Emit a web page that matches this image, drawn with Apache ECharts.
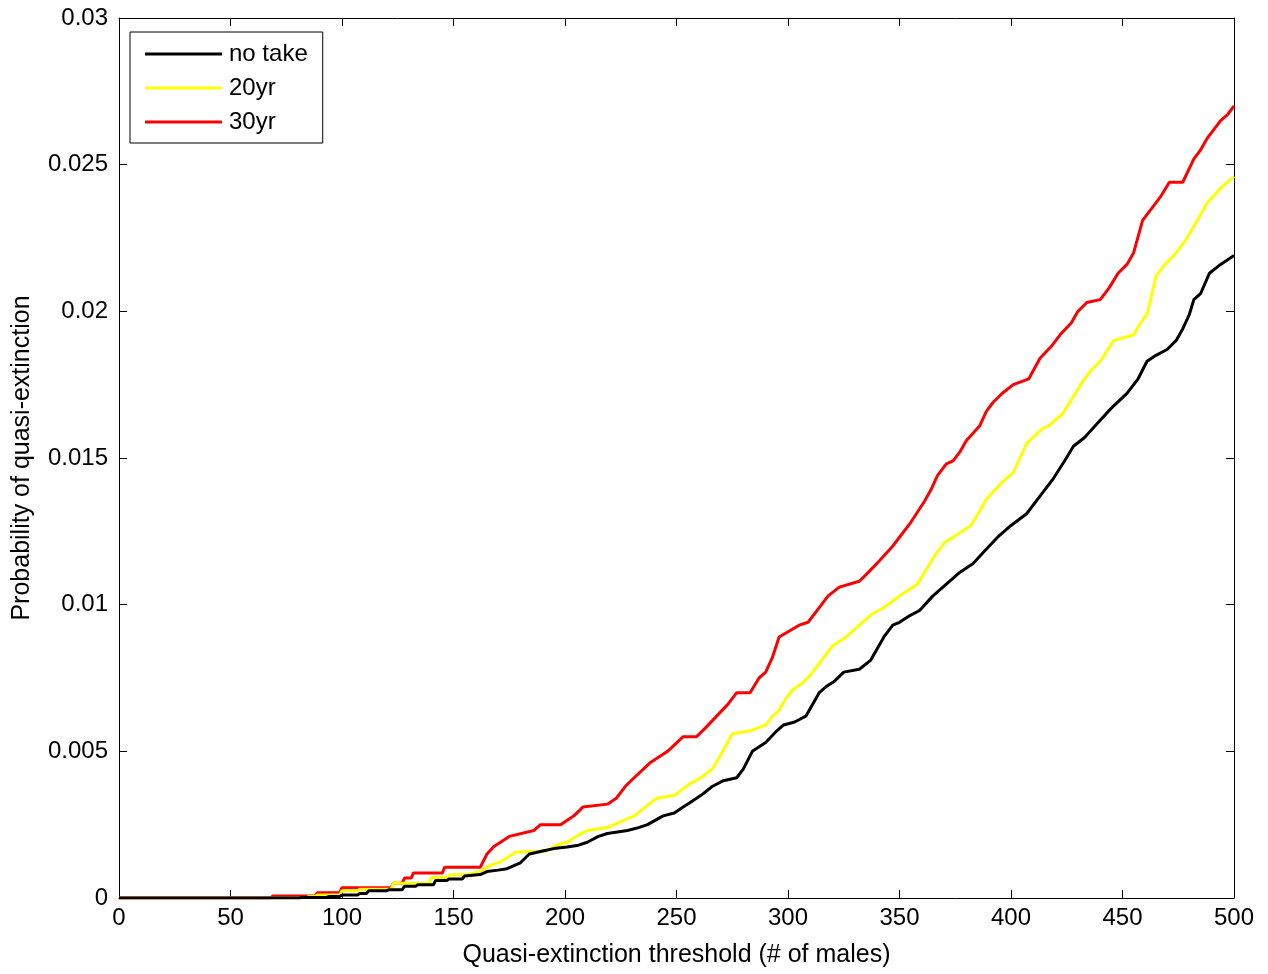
<!DOCTYPE html>
<html>
<head>
<meta charset="utf-8">
<title>Probability of quasi-extinction</title>
<script src="https://cdn.jsdelivr.net/npm/echarts@6/dist/echarts.min.js"></script>
<style>
  html, body { margin: 0; padding: 0; background: #fff; }
  #main { width: 1268px; height: 974px; }
</style>
</head>
<body>
<div id="main"></div>
<script>
var seriesNames = ['no take', '20yr', '30yr'];
var seriesColors = ['#000000', '#ffff00', '#ff0000'];

// [threshold, probability]
var noTake = [
  [0, 0], [81, 0], [82, 0.00002], [93, 0.00002], [94, 0.00005], [99, 0.00005],
  [100, 0.0001], [107, 0.0001], [108, 0.00015], [111, 0.00015], [112, 0.00025],
  [120, 0.00025], [121, 0.00028], [127, 0.00028], [128, 0.0004], [133, 0.0004],
  [134, 0.00045], [141, 0.00045], [142, 0.0006], [147, 0.0006], [148, 0.00065],
  [154, 0.00065], [155, 0.00075], [162, 0.0008], [165, 0.0009], [170, 0.00095],
  [174, 0.001], [180, 0.0012], [184, 0.0015], [190, 0.0016], [196, 0.0017],
  [201, 0.00174], [206, 0.0018], [210, 0.0019], [215, 0.0021], [219, 0.0022],
  [228, 0.0023], [233, 0.0024], [237, 0.0025], [244, 0.0028], [249, 0.0029],
  [253, 0.0031], [257, 0.0033], [261, 0.0035], [266, 0.0038], [271, 0.004],
  [277, 0.0041], [280, 0.0044], [284, 0.005], [290, 0.0053], [295, 0.0057],
  [298, 0.0059], [303, 0.006], [308, 0.0062], [311, 0.0066], [314, 0.007],
  [317, 0.0072], [321, 0.0074], [325, 0.0077], [332, 0.0078], [337, 0.0081],
  [340, 0.0085], [343, 0.0089], [347, 0.0093], [350, 0.0094], [354, 0.0096],
  [359, 0.0098], [365, 0.0103], [371, 0.0107], [377, 0.0111], [383, 0.0114],
  [389, 0.0119], [394, 0.0123], [400, 0.0127], [407, 0.0131], [413, 0.0137],
  [419, 0.0143], [424, 0.0149], [428, 0.0154], [433, 0.0157], [439, 0.0162],
  [445, 0.0167], [452, 0.0172], [457, 0.0177], [461, 0.0183], [465, 0.0185],
  [470, 0.0187], [474, 0.019], [477, 0.0194], [480, 0.0199], [482, 0.0204],
  [485, 0.0206], [489, 0.0213], [494, 0.0216], [500, 0.0219]
];

var take20 = [
  [0, 0], [84, 0], [85, 0.00005], [88, 0.00005], [89, 0.0001], [99, 0.0001],
  [100, 0.00025], [107, 0.00025], [108, 0.0003], [122, 0.0003], [123, 0.0005],
  [139, 0.0005], [140, 0.0007], [147, 0.0007], [148, 0.00078], [156, 0.0008],
  [162, 0.0009], [166, 0.0011], [171, 0.00123], [178, 0.00157], [192, 0.0016],
  [196, 0.0018], [201, 0.0019], [205, 0.0021], [210, 0.0023], [219, 0.0024],
  [225, 0.0026], [231, 0.0028], [236, 0.0031], [241, 0.0034], [249, 0.0035],
  [256, 0.0039], [261, 0.0041], [266, 0.0044], [270, 0.0049], [275, 0.0056],
  [283, 0.0057], [290, 0.0059], [293, 0.0062], [296, 0.0064], [299, 0.0068],
  [302, 0.0071], [306, 0.0073], [310, 0.0076], [315, 0.0081], [320, 0.0086],
  [326, 0.0089], [332, 0.0093], [338, 0.0097], [343, 0.0099], [350, 0.0103],
  [358, 0.0107], [362, 0.0112], [366, 0.0117], [370, 0.0121], [376, 0.0124],
  [382, 0.0127], [386, 0.0132], [389, 0.0136], [395, 0.0141], [401, 0.0145],
  [404, 0.015], [407, 0.0155], [414, 0.016], [417, 0.0161], [423, 0.0165],
  [428, 0.0171], [432, 0.0176], [436, 0.018], [440, 0.0183], [446, 0.019],
  [455, 0.0192], [458, 0.0196], [461, 0.0199], [465, 0.0212], [469, 0.0216],
  [473, 0.0219], [478, 0.0224], [482, 0.0229], [485, 0.0233], [488, 0.0237],
  [494, 0.0242], [500, 0.0246]
];

var take30 = [
  [0, 0], [68, 0], [69, 0.00007], [88, 0.00007], [89, 0.00018], [99, 0.00018],
  [100, 0.00035], [122, 0.00035], [123, 0.0005], [127, 0.0005], [128, 0.00068],
  [131, 0.00068], [132, 0.00085], [145, 0.00085], [146, 0.00105], [162, 0.00105],
  [165, 0.0015], [168, 0.00175], [175, 0.0021], [186, 0.0023], [189, 0.0025],
  [198, 0.0025], [204, 0.0028], [208, 0.0031], [219, 0.0032], [223, 0.0034],
  [227, 0.0038], [231, 0.0041], [238, 0.0046], [246, 0.005], [253, 0.0055],
  [259, 0.0055], [263, 0.0058], [268, 0.0062], [273, 0.0066], [277, 0.007],
  [283, 0.007], [287, 0.0075], [290, 0.0077], [293, 0.0082], [296, 0.0089],
  [305, 0.0093], [309, 0.0094], [314, 0.0099], [318, 0.0103], [323, 0.0106],
  [332, 0.0108], [336, 0.0111], [341, 0.0115], [347, 0.012], [351, 0.0124],
  [355, 0.0128], [361, 0.0135], [364, 0.0139], [367, 0.0144], [371, 0.0148],
  [374, 0.0149], [377, 0.0152], [380, 0.0156], [386, 0.0161], [389, 0.0166],
  [392, 0.0169], [396, 0.0172], [401, 0.0175], [408, 0.0177], [413, 0.0184],
  [418, 0.0188], [422, 0.0192], [427, 0.0196], [430, 0.02], [434, 0.0203],
  [440, 0.0204], [444, 0.0208], [448, 0.0213], [452, 0.0216], [455, 0.022],
  [459, 0.0231], [463, 0.0235], [467, 0.0239], [471, 0.0244], [477, 0.0244],
  [482, 0.0252], [485, 0.0255], [488, 0.0259], [491, 0.0262], [494, 0.0265],
  [497, 0.0267], [500, 0.027]
];

var chart = echarts.init(document.getElementById('main'));
var font = 'Liberation Sans, Arial, sans-serif';

function yLabel(v) {
  // matlab style labels: 0, 0.005, 0.01 ...
  return String(parseFloat(v.toFixed(4)));
}

function ticks() {
  return { show: true, inside: true, length: 8, lineStyle: { color: '#000', width: 1 } };
}
function axisLine() {
  return { show: true, onZero: false, lineStyle: { color: '#000', width: 1 } };
}

var option = {
  backgroundColor: '#ffffff',
  animation: false,
  color: seriesColors,
  grid: {
    left: 119, right: 34, top: 18, bottom: 76
  },
  legend: {
    data: seriesNames,
    orient: 'vertical',
    left: 130, top: 32,
    backgroundColor: '#fff',
    borderColor: '#000', borderWidth: 1,
    padding: [10, 15, 9, 15],
    icon: 'rect',
    itemWidth: 77, itemHeight: 3, itemGap: 10,
    textStyle: { fontFamily: font, fontSize: 24, color: '#000', padding: [0, 0, 0, 2] }
  },
  xAxis: [{
    type: 'value', min: 0, max: 500, interval: 50,
    name: 'Quasi-extinction threshold (# of males)',
    nameLocation: 'middle', nameGap: 45,
    nameTextStyle: { fontFamily: font, fontSize: 25, color: '#000' },
    axisLine: axisLine(),
    axisTick: ticks(),
    axisLabel: { fontFamily: font, fontSize: 24, color: '#000', margin: 8 },
    splitLine: { show: false }
  }, {
    type: 'value', min: 0, max: 500, interval: 50, position: 'top',
    axisLine: axisLine(),
    axisTick: ticks(),
    axisLabel: { show: false },
    splitLine: { show: false }
  }],
  yAxis: [{
    type: 'value', min: 0, max: 0.03, interval: 0.005,
    name: 'Probability of quasi-extinction',
    nameLocation: 'middle', nameGap: 84,
    nameTextStyle: { fontFamily: font, fontSize: 25, color: '#000' },
    axisLine: axisLine(),
    axisTick: ticks(),
    axisLabel: { fontFamily: font, fontSize: 24, color: '#000', margin: 11, formatter: yLabel },
    splitLine: { show: false }
  }, {
    type: 'value', min: 0, max: 0.03, interval: 0.005, position: 'right',
    axisLine: axisLine(),
    axisTick: ticks(),
    axisLabel: { show: false },
    splitLine: { show: false }
  }],
  series: [
    { name: seriesNames[0], type: 'line', data: noTake, symbol: 'none',
      lineStyle: { color: seriesColors[0], width: 3 }, z: 3 },
    { name: seriesNames[1], type: 'line', data: take20, symbol: 'none',
      lineStyle: { color: seriesColors[1], width: 3 }, z: 2 },
    { name: seriesNames[2], type: 'line', data: take30, symbol: 'none',
      lineStyle: { color: seriesColors[2], width: 3 }, z: 1 }
  ]
};

chart.setOption(option);
</script>
</body>
</html>
